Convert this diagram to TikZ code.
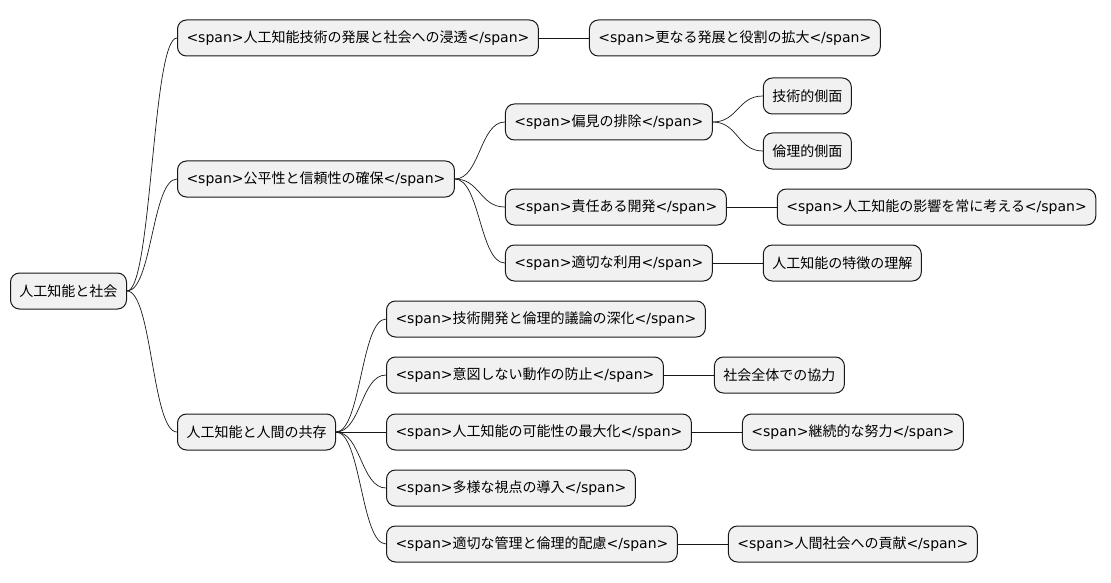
\documentclass[tikz,border=0pt]{standalone}
\usepackage{fontspec}
\setmainfont{Noto Sans CJK JP}
\newfontfamily\latinfont{DejaVu Sans}
\usetikzlibrary{positioning}
\definecolor{topicfill}{RGB}{241,241,241}
\definecolor{topicline}{RGB}{24,24,24}
\newcommand{\spantag}[1]{{\latinfont<span>}#1{\latinfont</span>}}
\newcommand{\gap}{50pt}
\tikzset{
    topic/.style={anchor=west, draw=topicline, fill=topicfill, rounded corners=9pt, line width=1pt,
        minimum height=36pt, inner xsep=9pt, font=\fontsize{14}{16}\selectfont},
    branch/.style={draw=topicline, line width=0.7pt,
        to path={.. controls +(25pt,0) and +(-25pt,0) .. (\tikztotarget)}},
}

\begin{document}
\begin{tikzpicture}[x=1pt, y=-1pt]
    \useasboundingbox (0,0) rectangle (1111,583);

    \node[topic] (root) at (10,291) {人工知能と社会};

    % first branch
    \node[topic, right=\gap of root, yshift=253pt] (spread) {\spantag{人工知能技術の発展と社会への浸透}};
    \node[topic, right=\gap of spread] (spread-more) {\spantag{更なる発展と役割の拡大}};

    % second branch
    \node[topic, right=\gap of root, yshift=112pt] (trust) {\spantag{公平性と信頼性の確保}};
    \node[topic, right=\gap of trust, yshift=57pt] (bias) {\spantag{偏見の排除}};
    \node[topic, right=\gap of bias, yshift=26pt] (bias-tech) {技術的側面};
    \node[topic, right=\gap of bias, yshift=-29pt] (bias-ethic) {倫理的側面};
    \node[topic, right=\gap of trust, yshift=-28pt] (duty) {\spantag{責任ある開発}};
    \node[topic, right=\gap of duty] (duty-think) {\spantag{人工知能の影響を常に考える}};
    \node[topic, right=\gap of trust, yshift=-84pt] (proper) {\spantag{適切な利用}};
    \node[topic, right=\gap of proper] (proper-know) {人工知能の特徴の理解};

    % third branch
    \node[topic, right=\gap of root, yshift=-141pt] (coexist) {人工知能と人間の共存};
    \node[topic, right=\gap of coexist, yshift=113pt] (deepen) {\spantag{技術開発と倫理的議論の深化}};
    \node[topic, right=\gap of coexist, yshift=57pt] (prevent) {\spantag{意図しない動作の防止}};
    \node[topic, right=\gap of prevent] (prevent-all) {社会全体での協力};
    \node[topic, right=\gap of coexist] (maximize) {\spantag{人工知能の可能性の最大化}};
    \node[topic, right=\gap of maximize] (maximize-keep) {\spantag{継続的な努力}};
    \node[topic, right=\gap of coexist, yshift=-56pt] (views) {\spantag{多様な視点の導入}};
    \node[topic, right=\gap of coexist, yshift=-112pt] (manage) {\spantag{適切な管理と倫理的配慮}};
    \node[topic, right=\gap of manage] (manage-give) {\spantag{人間社会への貢献}};

    \foreach \from/\to in {root/spread, spread/spread-more, root/trust, trust/bias, bias/bias-tech,
            bias/bias-ethic, trust/duty, duty/duty-think, trust/proper, proper/proper-know,
            root/coexist, coexist/deepen, coexist/prevent, prevent/prevent-all, coexist/maximize,
            maximize/maximize-keep, coexist/views, coexist/manage, manage/manage-give}
        \draw[branch] (\from.east) to (\to.west);
\end{tikzpicture}
\end{document}
